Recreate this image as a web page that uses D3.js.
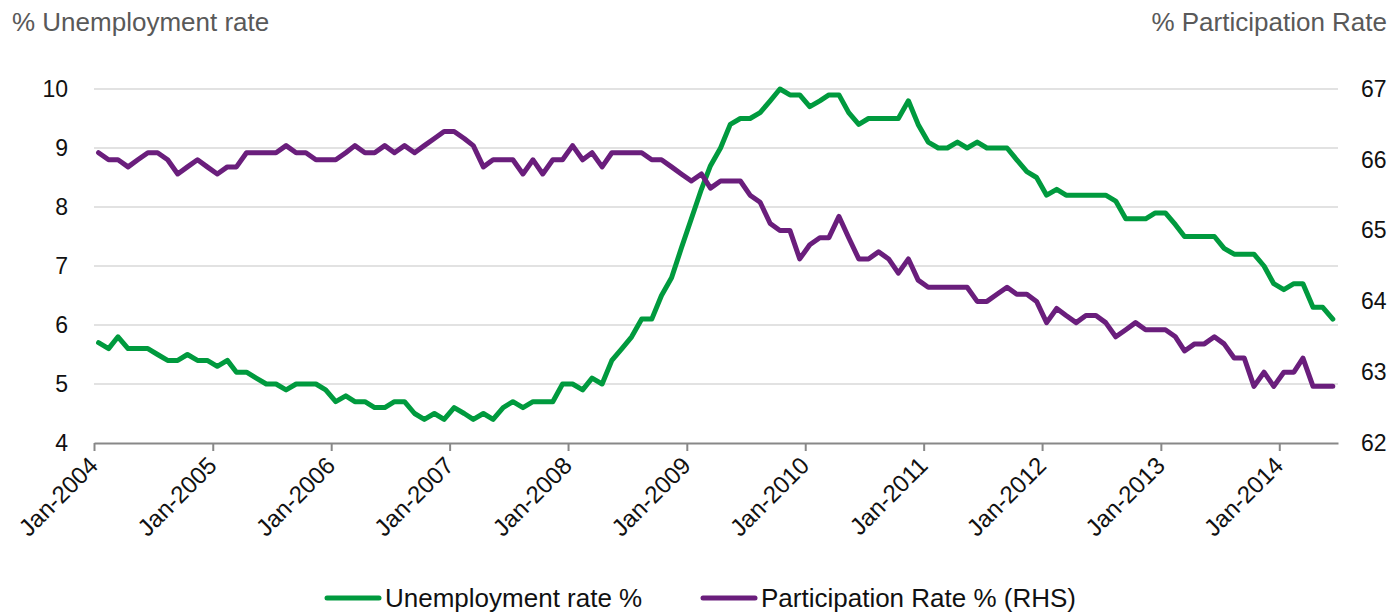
<!DOCTYPE html>
<html>
<head>
<meta charset="utf-8">
<script src="https://cdn.jsdelivr.net/npm/d3@7"></script>
<style>
  html, body { margin: 0; padding: 0; background: #fff; }
  svg text { font-family: "Liberation Sans", Arial, Helvetica, sans-serif; }
</style>
</head>
<body>
<svg id="chart" width="1399" height="615"></svg>
<script>
// Monthly series, Jan 2004 – Jun 2014
const startYear = 2004;
const unemployment = [
  5.7, 5.6, 5.8, 5.6, 5.6, 5.6, 5.5, 5.4, 5.4, 5.5, 5.4, 5.4, // 2004
  5.3, 5.4, 5.2, 5.2, 5.1, 5.0, 5.0, 4.9, 5.0, 5.0, 5.0, 4.9, // 2005
  4.7, 4.8, 4.7, 4.7, 4.6, 4.6, 4.7, 4.7, 4.5, 4.4, 4.5, 4.4, // 2006
  4.6, 4.5, 4.4, 4.5, 4.4, 4.6, 4.7, 4.6, 4.7, 4.7, 4.7, 5.0, // 2007
  5.0, 4.9, 5.1, 5.0, 5.4, 5.6, 5.8, 6.1, 6.1, 6.5, 6.8, 7.3, // 2008
  7.8, 8.3, 8.7, 9.0, 9.4, 9.5, 9.5, 9.6, 9.8, 10.0, 9.9, 9.9, // 2009
  9.7, 9.8, 9.9, 9.9, 9.6, 9.4, 9.5, 9.5, 9.5, 9.5, 9.8, 9.4, // 2010
  9.1, 9.0, 9.0, 9.1, 9.0, 9.1, 9.0, 9.0, 9.0, 8.8, 8.6, 8.5, // 2011
  8.2, 8.3, 8.2, 8.2, 8.2, 8.2, 8.2, 8.1, 7.8, 7.8, 7.8, 7.9, // 2012
  7.9, 7.7, 7.5, 7.5, 7.5, 7.5, 7.3, 7.2, 7.2, 7.2, 7.0, 6.7, // 2013
  6.6, 6.7, 6.7, 6.3, 6.3, 6.1                                // 2014
];
const participation = [
  66.1, 66.0, 66.0, 65.9, 66.0, 66.1, 66.1, 66.0, 65.8, 65.9, 66.0, 65.9, // 2004
  65.8, 65.9, 65.9, 66.1, 66.1, 66.1, 66.1, 66.2, 66.1, 66.1, 66.0, 66.0, // 2005
  66.0, 66.1, 66.2, 66.1, 66.1, 66.2, 66.1, 66.2, 66.1, 66.2, 66.3, 66.4, // 2006
  66.4, 66.3, 66.2, 65.9, 66.0, 66.0, 66.0, 65.8, 66.0, 65.8, 66.0, 66.0, // 2007
  66.2, 66.0, 66.1, 65.9, 66.1, 66.1, 66.1, 66.1, 66.0, 66.0, 65.9, 65.8, // 2008
  65.7, 65.8, 65.6, 65.7, 65.7, 65.7, 65.5, 65.4, 65.1, 65.0, 65.0, 64.6, // 2009
  64.8, 64.9, 64.9, 65.2, 64.9, 64.6, 64.6, 64.7, 64.6, 64.4, 64.6, 64.3, // 2010
  64.2, 64.2, 64.2, 64.2, 64.2, 64.0, 64.0, 64.1, 64.2, 64.1, 64.1, 64.0, // 2011
  63.7, 63.9, 63.8, 63.7, 63.8, 63.8, 63.7, 63.5, 63.6, 63.7, 63.6, 63.6, // 2012
  63.6, 63.5, 63.3, 63.4, 63.4, 63.5, 63.4, 63.2, 63.2, 62.8, 63.0, 62.8, // 2013
  63.0, 63.0, 63.2, 62.8, 62.8, 62.8                                      // 2014
];
const leftTicks = [4, 5, 6, 7, 8, 9, 10];
const rightTicks = [62, 63, 64, 65, 66, 67];
const xTickYears = [2004, 2005, 2006, 2007, 2008, 2009, 2010, 2011, 2012, 2013, 2014];
const seriesNames = ["Unemployment rate %", "Participation Rate % (RHS)"];
const leftTitle = "% Unemployment rate";
const rightTitle = "% Participation Rate";

const green = "#009a3e";
const purple = "#6a1e7c";

const svg = d3.select("#chart");
const plot = { left: 94, right: 1338, top: 89, bottom: 443 };

// Each monthly observation sits mid-month
const dates = unemployment.map((_, i) => new Date(startYear, i, 15));

const x = d3.scaleTime()
  .domain([new Date(2004, 0, 1), new Date(2014, 6, 1)])
  .range([plot.left, plot.right]);
const yL = d3.scaleLinear().domain([4, 10]).range([plot.bottom, plot.top]);
const yR = d3.scaleLinear().domain([62, 67]).range([plot.bottom, plot.top]);

// Horizontal gridlines on the left-axis ticks
svg.append("g")
  .selectAll("line")
  .data(leftTicks.filter(d => d > 4))
  .join("line")
  .attr("x1", plot.left).attr("x2", plot.right)
  .attr("y1", d => yL(d)).attr("y2", d => yL(d))
  .attr("stroke", "#d9d9d9").attr("stroke-width", 1.5);

// Left axis labels
const leftAxis = svg.append("g")
  .attr("transform", `translate(${plot.left},0)`)
  .call(d3.axisLeft(yL).tickValues(leftTicks).tickSize(0).tickPadding(26).tickFormat(d3.format("d")));
leftAxis.select(".domain").remove();
leftAxis.selectAll("text").attr("font-size", 23).attr("fill", "#111");

// Right axis labels
const rightAxis = svg.append("g")
  .attr("transform", `translate(${plot.right},0)`)
  .call(d3.axisRight(yR).tickValues(rightTicks).tickSize(0).tickPadding(23).tickFormat(d3.format("d")));
rightAxis.select(".domain").remove();
rightAxis.selectAll("text").attr("font-size", 23).attr("fill", "#111");

// Bottom axis with yearly ticks
const xAxis = svg.append("g")
  .attr("transform", `translate(0,${plot.bottom})`)
  .call(d3.axisBottom(x)
    .tickValues(xTickYears.map(yy => new Date(yy, 0, 1)))
    .tickSize(8).tickSizeOuter(0)
    .tickFormat(d3.timeFormat("%b-%Y")));
xAxis.select(".domain").attr("stroke", "#888").attr("stroke-width", 2);
xAxis.selectAll(".tick line").attr("stroke", "#888").attr("stroke-width", 2);
xAxis.selectAll(".tick text")
  .attr("font-size", 24)
  .attr("fill", "#111")
  .attr("text-anchor", "end")
  .attr("dy", null)
  .attr("y", 0)
  .attr("transform", "translate(5,24) rotate(-45)");

// Series lines
const lineL = d3.line().x((d, i) => x(dates[i])).y(d => yL(d));
const lineR = d3.line().x((d, i) => x(dates[i])).y(d => yR(d));

svg.append("path")
  .datum(unemployment)
  .attr("d", lineL)
  .attr("fill", "none")
  .attr("stroke", green)
  .attr("stroke-width", 5)
  .attr("stroke-linejoin", "round")
  .attr("stroke-linecap", "round");

svg.append("path")
  .datum(participation)
  .attr("d", lineR)
  .attr("fill", "none")
  .attr("stroke", purple)
  .attr("stroke-width", 5)
  .attr("stroke-linejoin", "round")
  .attr("stroke-linecap", "round");

// Axis titles
svg.append("text")
  .attr("x", 12).attr("y", 31)
  .attr("font-size", 26).attr("fill", "#595959")
  .text(leftTitle);
svg.append("text")
  .attr("x", 1387).attr("y", 31)
  .attr("text-anchor", "end")
  .attr("font-size", 26).attr("fill", "#595959")
  .text(rightTitle);

// Legend
const legendItems = [
  { name: seriesNames[0], color: green, x: 327 },
  { name: seriesNames[1], color: purple, x: 703 }
];
const legend = svg.append("g");
legendItems.forEach(item => {
  legend.append("line")
    .attr("x1", item.x).attr("x2", item.x + 52)
    .attr("y1", 598).attr("y2", 598)
    .attr("stroke", item.color).attr("stroke-width", 5)
    .attr("stroke-linecap", "round");
  legend.append("text")
    .attr("x", item.x + 58).attr("y", 607)
    .attr("font-size", 26).attr("fill", "#111")
    .text(item.name);
});
</script>
</body>
</html>
